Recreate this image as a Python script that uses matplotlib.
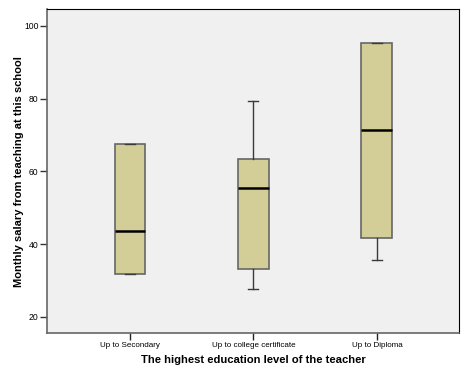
import matplotlib
matplotlib.use("Agg")
import matplotlib.pyplot as plt

plt.rcParams['font.family'] = ['Liberation Sans', 'DejaVu Sans']

# box statistics
categories = ["Up to Secondary", "Up to college certificate", "Up to Diploma"]
whisker_low = [31.8, 27.6, 35.6]
q1 = [31.8, 33.2, 41.6]
median = [43.7, 55.5, 71.4]
q3 = [67.4, 63.4, 95.3]
whisker_high = [67.4, 79.3, 95.3]

stats = []
for i, name in enumerate(categories):
    stats.append({"label": name, "whislo": whisker_low[i], "q1": q1[i],
                  "med": median[i], "q3": q3[i], "whishi": whisker_high[i],
                  "fliers": []})

fig = plt.figure(figsize=(4.68, 3.74), dpi=100)
ax = fig.add_axes([47/468, 1-333/374, (459-47)/468, (333-9.3)/374])
ax.set_facecolor("#f0f0f0")

ax.bxp(stats, positions=[1, 2, 3], widths=0.25, patch_artist=True,
       showfliers=False,
       boxprops=dict(facecolor="#d3ce97", edgecolor="#666666", linewidth=1.2),
       medianprops=dict(color="black", linewidth=1.8),
       whiskerprops=dict(color="#3a3a3a", linewidth=1.0),
       capprops=dict(color="#3a3a3a", linewidth=1.0),
       capwidths=0.08)

ax.set_xlim(0.328, 3.665)
ax.set_ylim(15.6, 104.5)
ax.set_yticks([20, 40, 60, 80, 100])
ax.tick_params(axis="y", labelsize=6.2, length=5, width=1, color="#333333",
               pad=1)
ax.tick_params(axis="x", labelsize=5.8, length=5, width=1, color="#222222",
               pad=1.8)
for s in ["top", "right"]:
    ax.spines[s].set_color("black")
for s in ["left", "bottom"]:
    ax.spines[s].set_color("#666666")
    ax.spines[s].set_linewidth(1.2)

ax.set_xlabel("The highest education level of the teacher", fontsize=8.1,
              fontweight="bold", labelpad=4)
ax.set_ylabel("Monthly salary from teaching at this school", fontsize=8,
              fontweight="bold", labelpad=0)

fig.savefig("out.png", dpi=100)
